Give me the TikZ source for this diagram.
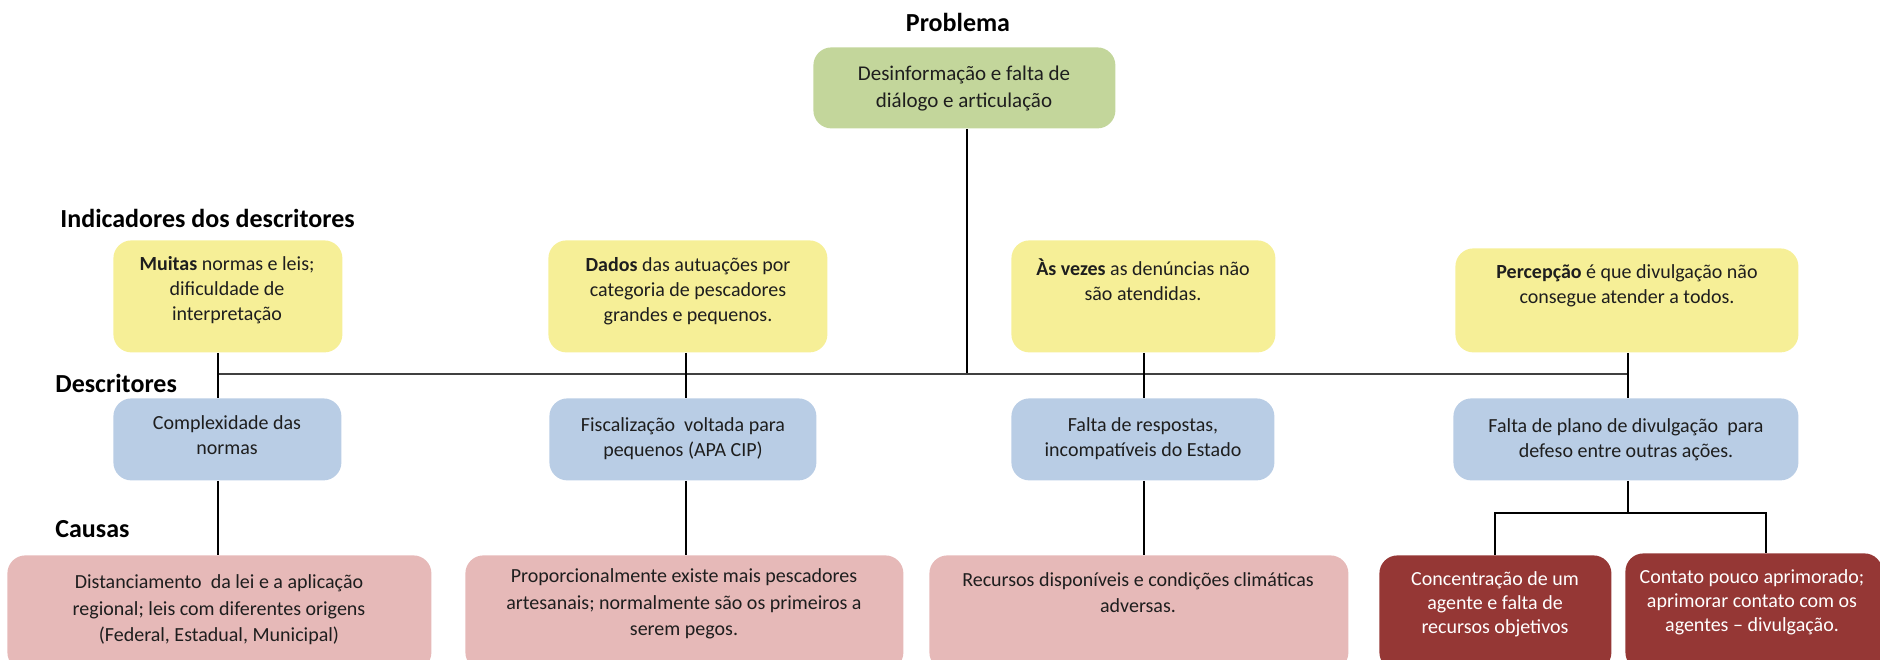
\documentclass[tikz,border=0pt]{standalone}
\usepackage{fontspec}
\setmainfont{Carlito}
\usetikzlibrary{calc}
\definecolor{gfill}{HTML}{C3D69B}
\definecolor{yfill}{HTML}{F6EF97}
\definecolor{bfill}{HTML}{B9CDE5}
\definecolor{pfill}{HTML}{E6B9B8}
\definecolor{rfill}{HTML}{953735}
\definecolor{txtc}{HTML}{1E1E1E}
\begin{document}
\begin{tikzpicture}[x=0.5pt,y=-0.5pt,
  box/.style={draw=none, rounded corners=9pt, inner sep=0pt, anchor=north west},
  gbox/.style={box, fill=gfill},
  ybox/.style={box, fill=yfill},
  bbox/.style={box, fill=bfill},
  pbox/.style={box, fill=pfill},
  rbox/.style={box, fill=rfill},
  tx/.style={align=center, inner sep=0pt, text=txtc, font=\fontsize{10}{12.5}\selectfont},
  txg/.style={tx, font=\fontsize{10.5}{13.5}\selectfont},
  txp/.style={tx, font=\fontsize{10}{13.3}\selectfont},
  txr/.style={tx, text=white, font=\fontsize{10}{12}\selectfont},
  ttl/.style={inner sep=0pt, font=\fontsize{13}{15}\selectfont\bfseries, text=black},
  ln/.style={draw=black, line width=0.7pt},
  ln2/.style={draw=black, line width=1pt},
  bus/.style={draw=black!75, line width=1.1pt}
]
\useasboundingbox (0,0) rectangle (1880,659);
\clip (0,0) rectangle (1880,659);

% titles
\node[ttl] (tprob) at (958,22) {Problema};
\node[ttl, anchor=west] (tind) at (60,218) {Indicadores dos descritores};
\node[ttl, anchor=west] (tdesc) at (55,383) {Descritores};
\node[ttl, anchor=west] (tcaus) at (55,529) {Causas};

% boxes
\node[gbox, minimum width=151pt, minimum height=40.5pt] (g) at (813,47) {};
\node[ybox, minimum width=114.5pt, minimum height=56pt] (y1) at (113,240) {};
\node[ybox, minimum width=139.5pt, minimum height=56pt] (y2) at (548,240) {};
\node[ybox, minimum width=132pt, minimum height=56pt] (y3) at (1011,240) {};
\node[ybox, minimum width=171.5pt, minimum height=52pt] (y4) at (1455,248) {};
\node[bbox, minimum width=114pt, minimum height=41pt] (b1) at (113,398) {};
\node[bbox, minimum width=133.5pt, minimum height=41pt] (b2) at (549,398) {};
\node[bbox, minimum width=131.5pt, minimum height=41pt] (b3) at (1011,398) {};
\node[bbox, minimum width=172.5pt, minimum height=41pt] (b4) at (1453,398) {};
\node[pbox, minimum width=212pt, minimum height=57.5pt] (p1) at (7,555) {};
\node[pbox, minimum width=219pt, minimum height=57.5pt] (p2) at (465,555) {};
\node[pbox, minimum width=209.5pt, minimum height=57.5pt] (p3) at (929,555) {};
\node[rbox, minimum width=116pt, minimum height=57.5pt] (ra) at (1379,555) {};
\node[rbox, minimum width=128.5pt, minimum height=58.5pt] (rb) at (1625,553) {};

% texts
\node[txg] (gt) at (964,88.5) {Desinformação e falta de\\diálogo e articulação};
\node[tx] (y1t) at (227,290) {\textbf{Muitas} normas e leis;\\dificuldade de\\interpretação};
\node[tx] (y2t) at (688,291) {\textbf{Dados} das autuações por\\categoria de pescadores\\grandes e pequenos.};
\node[tx] (y3t) at (1143,279.5) {\textbf{Às vezes} as denúncias não\\são atendidas.};
\node[tx] (y4t) at (1627,285.5) {\textbf{Percepção} é que divulgação não\\consegue atender a todos.};
\node[tx] (b1t) at (227,435) {Complexidade das\\normas};
\node[tx] (b2t) at (683,439) {Fiscalização \ voltada para\\pequenos (APA CIP)};
\node[tx] (b3t) at (1143,439) {Falta de respostas,\\incompatíveis do Estado};
\node[tx] (b4t) at (1626,439.5) {Falta de plano de divulgação \ para\\defeso entre outras ações.};
\node[txp] (p1t) at (219,610) {Distanciamento \ da lei e a aplicação\\regional; leis com diferentes origens\\(Federal, Estadual, Municipal)};
\node[txp] (p2t) at (684,604) {Proporcionalmente existe mais pescadores\\artesanais; normalmente são os primeiros a\\serem pegos.};
\node[txp] (p3t) at (1138,592.5) {Recursos disponíveis e condições climáticas\\adversas.};
\node[txr] (rat) at (1495,604) {Concentração de um\\agente e falta de\\recursos objetivos};
\node[txr] (rbt) at (1752,602.5) {Contato pouco aprimorado;\\aprimorar contato com os\\agentes -- divulgação.};

% connector coordinates
\coordinate (k0) at (967,374);
\coordinate (k1) at (218,374);
\coordinate (k2) at (686,374);
\coordinate (k3) at (1144,374);
\coordinate (k4) at (1628,374);
\coordinate (jm) at (1628,513);
\coordinate (ja) at (1495,513);
\coordinate (jb) at (1766,513);

% connectors
\draw[ln] (g.south -| k0) -- (k0);
\draw[bus] (k1) -- (k4);
\draw[ln] (y1.south -| k1) -- (b1.north -| k1);
\draw[ln] (y2.south -| k2) -- (b2.north -| k2);
\draw[ln] (y3.south -| k3) -- (b3.north -| k3);
\draw[ln] (y4.south -| k4) -- (b4.north -| k4);
\draw[ln2] (b1.south -| k1) -- (p1.north -| k1);
\draw[ln2] (b2.south -| k2) -- (p2.north -| k2);
\draw[ln2] (b3.south -| k3) -- (p3.north -| k3);
\draw[ln2] (b4.south -| k4) -- (jm);
\draw[ln2] (ra.north -| ja) -- (ja) -- (jb) -- (rb.north -| jb);
\end{tikzpicture}
\end{document}
